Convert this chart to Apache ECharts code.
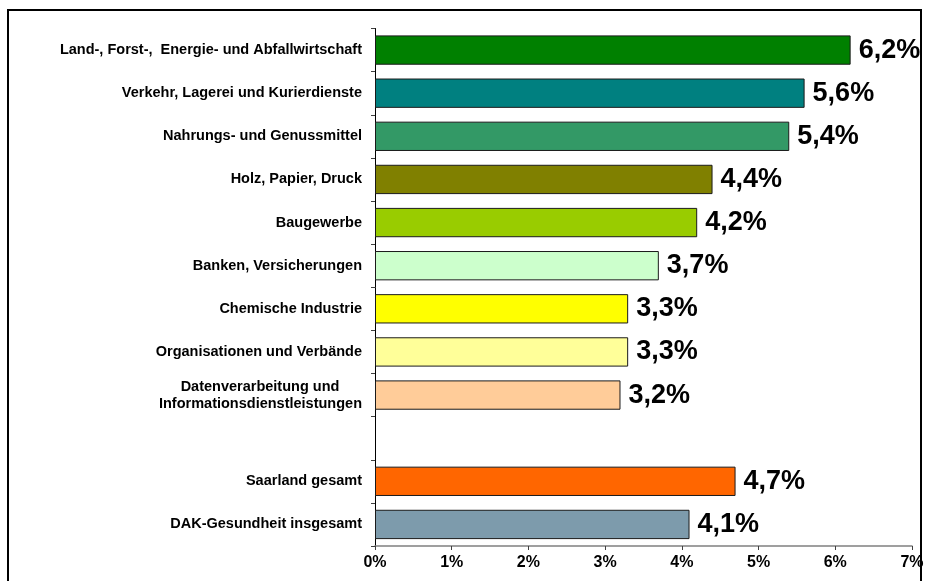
<!DOCTYPE html>
<html>
<head>
<meta charset="utf-8">
<script src="https://cdn.jsdelivr.net/npm/echarts@6/dist/echarts.min.js"></script>
<style>
html,body{margin:0;padding:0;background:#fff;}
#chart{width:931px;height:581px;}
</style>
</head>
<body>
<div id="chart"></div>
<script>
var categories = [
  'Land-, Forst-,  Energie- und Abfallwirtschaft',
  'Verkehr, Lagerei und Kurierdienste',
  'Nahrungs- und Genussmittel',
  'Holz, Papier, Druck',
  'Baugewerbe',
  'Banken, Versicherungen',
  'Chemische Industrie',
  'Organisationen und Verbände',
  'Datenverarbeitung und\nInformationsdienstleistungen',
  '',
  'Saarland gesamt',
  'DAK-Gesundheit insgesamt'
];
var values = [6.2, 5.6, 5.4, 4.4, 4.2, 3.7, 3.3, 3.3, 3.2, null, 4.7, 4.1];
var barColors = ['#008000', '#008080', '#339966', '#808000', '#99CC00', '#CCFFCC',
                 '#FFFF00', '#FFFF99', '#FFCC99', '#ffffff', '#FF6600', '#7D9BAC'];
var xTicks = [0, 1, 2, 3, 4, 5, 6, 7];

var FONT = 'Arial, "Liberation Sans", sans-serif';
var CAT_SIZE = 14.5;

// measure second line of the two-line label so first line can be centred above it
var cv = document.createElement('canvas').getContext('2d');
cv.font = 'bold ' + CAT_SIZE + 'px ' + FONT;
var line2W = Math.ceil(cv.measureText('Informationsdienstleistungen').width);

var chart = echarts.init(document.getElementById('chart'), null, {renderer: 'canvas'});
var option = {
  animation: false,
  backgroundColor: '#ffffff',
  graphic: [{
    type: 'rect',
    shape: {x: 8, y: 10, width: 913, height: 620},
    style: {fill: 'none', stroke: '#000', lineWidth: 2},
    silent: true
  }],
  grid: {left: 375, top: 28.5, width: 537, height: 517.5, containLabel: false},
  xAxis: {
    type: 'value',
    min: xTicks[0],
    max: xTicks[xTicks.length - 1],
    interval: 1,
    splitLine: {show: false},
    axisLine: {show: true, lineStyle: {color: '#808080', width: 1.5}},
    axisTick: {show: true, length: 4, lineStyle: {color: '#404040', width: 1}},
    axisLabel: {
      margin: 9,
      color: '#000',
      fontFamily: FONT,
      fontWeight: 'bold',
      fontSize: 16,
      formatter: function (v) { return v + '%'; }
    }
  },
  yAxis: {
    type: 'category',
    inverse: true,
    data: categories,
    axisLine: {show: true, lineStyle: {color: '#000', width: 1}},
    axisTick: {show: true, length: 4, alignWithLabel: false, lineStyle: {color: '#404040'}},
    axisLabel: {
      margin: 13,
      color: '#000',
      fontFamily: FONT,
      fontWeight: 'bold',
      fontSize: CAT_SIZE,
      lineHeight: 17,
      formatter: function (v) {
        if (v.indexOf('\n') >= 0) {
          var parts = v.split('\n');
          return '{a|' + parts[0] + '}\n{b|' + parts[1] + '}';
        }
        return v;
      },
      rich: {
        a: {width: line2W, align: 'center', fontFamily: FONT, fontWeight: 'bold', fontSize: CAT_SIZE, lineHeight: 17, color: '#000'},
        b: {fontFamily: FONT, fontWeight: 'bold', fontSize: CAT_SIZE, lineHeight: 17, color: '#000'}
      }
    }
  },
  series: [{
    type: 'bar',
    data: values.map(function (v, i) {
      return {value: v, itemStyle: {color: barColors[i]}};
    }),
    barCategoryGap: '32%',
    itemStyle: {borderColor: '#1a1a1a', borderWidth: 1},
    label: {
      show: true,
      position: 'right',
      distance: 8,
      color: '#000',
      fontFamily: FONT,
      fontWeight: 'bold',
      fontSize: 27,
      formatter: function (p) {
        if (p.value == null) return '';
        return p.value.toFixed(1).replace('.', ',') + '%';
      }
    }
  }]
};
chart.setOption(option);
</script>
</body>
</html>
